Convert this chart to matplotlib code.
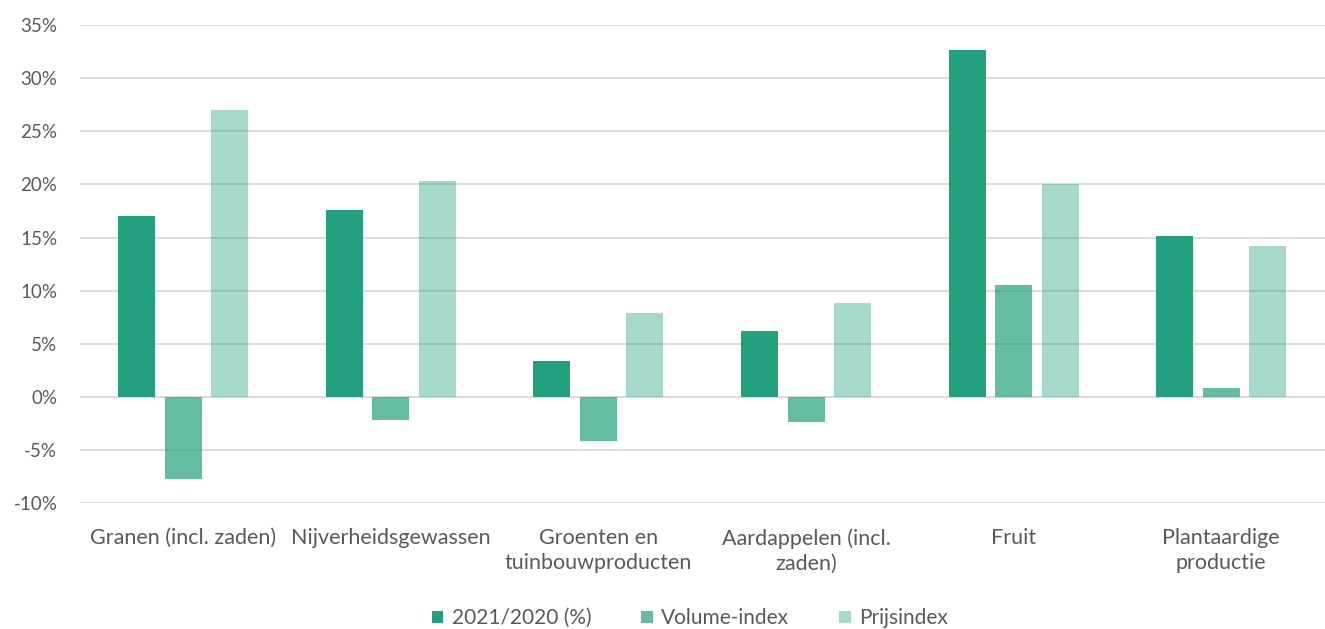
import numpy as np
import matplotlib
matplotlib.use("Agg")
import matplotlib.pyplot as plt
from matplotlib.ticker import FuncFormatter

plt.rcParams['font.family'] = ['Lato', 'DejaVu Sans']

categories = ["Granen (incl. zaden)", "Nijverheidsgewassen", "Groenten en\ntuinbouwproducten",
              "Aardappelen (incl.\nzaden)", "Fruit", "Plantaardige\nproductie"]
jaar = [17.0, 17.6, 3.4, 6.2, 32.7, 15.1]
volume = [-7.7, -2.2, -4.2, -2.4, 10.5, 0.85]
prijs = [27.0, 20.3, 7.9, 8.8, 20.0, 14.2]
series_names = ["2021/2020 (%)", "Volume-index", "Prijsindex"]
# one green, fading
alphas = [1.0, 0.7, 0.4]

fig = plt.figure(figsize=(13.25, 6.29), dpi=100)
ax = fig.add_axes([0.060, 0.2003, 0.940, 0.7597])

x = np.arange(len(categories))
w = 0.178
step = 0.224
for i, (vals, name, a) in enumerate(zip([jaar, volume, prijs], series_names, alphas)):
    ax.bar(x + (i - 1) * step, vals, width=w, color='#22a07f', alpha=a, label=name, zorder=3)

ax.set_ylim(-10, 35)
ax.set_yticks(np.arange(-10, 36, 5))
ax.yaxis.set_major_formatter(FuncFormatter(lambda v, p: f"{int(v)}%"))
ax.set_xlim(-0.5, len(categories) - 0.5)
ax.set_xticks(x)
ax.set_xticklabels(categories, linespacing=1.3)
ax.grid(axis='y', color='#d9d9d9', linewidth=1.3, zorder=0)
ax.set_axisbelow(True)
for s in ax.spines.values():
    s.set_visible(False)
ax.tick_params(axis='x', length=0, labelsize=15.5, colors='#595959', pad=18)
ax.tick_params(axis='y', length=0, labelsize=13.5, colors='#595959', pad=16)

ax.legend(loc='upper center', bbox_to_anchor=(0.49, -0.181), ncol=3, frameon=False,
          fontsize=15, handlelength=0.55, handleheight=0.55, columnspacing=2.4,
          handletextpad=0.4, labelcolor='#595959')

fig.savefig("out.png", dpi=100)
